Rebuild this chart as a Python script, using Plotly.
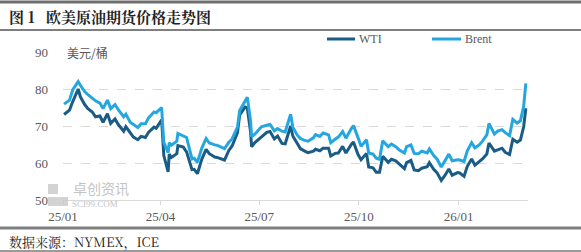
import plotly.graph_objects as go

dates = [
    "2025-01-02","2025-01-07","2025-01-10","2025-01-15","2025-01-17","2025-01-21","2025-01-24","2025-01-28","2025-01-31",
    "2025-02-04","2025-02-07","2025-02-11","2025-02-14","2025-02-18","2025-02-21","2025-02-26","2025-02-28",
    "2025-03-04","2025-03-07","2025-03-11","2025-03-14","2025-03-18","2025-03-21","2025-03-26","2025-03-28",
    "2025-04-02","2025-04-03","2025-04-04","2025-04-08","2025-04-09","2025-04-11","2025-04-16","2025-04-17","2025-04-22","2025-04-25","2025-04-30",
    "2025-05-02","2025-05-05","2025-05-09","2025-05-13","2025-05-16","2025-05-21","2025-05-23","2025-05-30",
    "2025-06-03","2025-06-06","2025-06-11","2025-06-13","2025-06-18","2025-06-20","2025-06-23","2025-06-24","2025-06-27",
    "2025-07-03","2025-07-08","2025-07-11","2025-07-15","2025-07-18","2025-07-22","2025-07-25","2025-07-30",
    "2025-08-01","2025-08-05","2025-08-08","2025-08-12","2025-08-15","2025-08-20","2025-08-22","2025-08-26","2025-08-29",
    "2025-09-03","2025-09-05","2025-09-09","2025-09-12","2025-09-16","2025-09-19","2025-09-24","2025-09-26","2025-09-30",
    "2025-10-03","2025-10-08","2025-10-10","2025-10-14","2025-10-17","2025-10-20","2025-10-23","2025-10-28","2025-10-31",
    "2025-11-04","2025-11-07","2025-11-12","2025-11-14","2025-11-18","2025-11-21","2025-11-25","2025-11-28",
    "2025-12-03","2025-12-05","2025-12-09","2025-12-12","2025-12-16","2025-12-19","2025-12-23","2025-12-26","2025-12-31",
    "2026-01-02","2026-01-06","2026-01-09","2026-01-13","2026-01-16","2026-01-20","2026-01-23","2026-01-27","2026-01-29",
    "2026-02-03","2026-02-06","2026-02-10","2026-02-13","2026-02-17","2026-02-20","2026-02-24","2026-02-27",
    "2026-03-02","2026-03-04",
]

wti = [
    73.1,74.3,76.6,80.0,77.9,75.8,74.7,73.8,72.5,
    72.7,71.0,73.3,70.7,71.9,70.4,68.6,69.8,
    68.3,67.0,66.3,67.2,66.9,68.3,69.7,69.4,
    71.7,67.0,62.0,57.6,62.4,61.5,62.5,64.7,64.3,63.0,58.2,
    58.3,57.1,61.0,63.7,62.5,61.6,61.5,60.8,
    63.4,64.6,68.2,73.0,75.1,74.9,68.5,64.4,65.5,
    67.0,68.3,68.5,66.5,67.3,65.3,65.2,70.0,
    67.3,65.2,63.9,63.2,62.8,63.2,63.7,63.3,64.0,
    64.0,61.9,62.6,62.7,64.5,62.7,65.0,65.7,62.4,
    60.9,62.6,58.9,58.7,57.5,57.5,61.8,60.2,61.0,
    60.6,59.8,58.5,60.1,60.7,58.1,57.9,58.6,
    59.0,60.1,58.3,57.4,55.3,56.5,58.4,56.7,57.4,
    57.3,56.4,59.1,61.1,59.4,60.3,61.1,62.4,65.4,
    63.2,63.6,64.0,62.9,62.3,66.4,65.6,66.2,
    69.8,74.8,
]

brent = [
    75.9,77.0,79.8,82.0,81.0,79.3,78.5,77.5,76.8,
    76.2,74.7,77.0,74.7,75.8,74.4,72.5,73.2,
    71.0,70.4,69.6,70.6,70.6,72.2,73.8,73.6,
    75.0,70.1,65.6,62.8,65.5,64.8,65.9,68.0,67.4,66.9,61.1,
    61.3,60.2,64.0,66.6,65.4,64.9,64.8,63.9,
    65.6,66.5,69.8,74.2,76.7,77.8,71.5,67.1,67.8,
    69.8,70.2,70.4,68.7,69.3,68.6,68.4,73.2,
    69.7,67.6,66.6,66.1,65.9,66.8,67.7,67.2,68.1,
    67.6,65.5,66.4,67.0,68.5,66.7,69.3,70.1,67.0,
    64.5,66.3,62.7,62.4,61.3,61.0,66.0,64.4,65.1,
    64.4,63.6,62.7,64.4,64.9,62.6,62.5,63.2,
    62.7,63.8,62.0,61.1,58.9,60.5,62.4,60.6,60.9,
    60.8,60.4,63.3,65.5,64.1,64.9,65.9,67.6,70.7,
    67.8,68.6,69.0,68.2,67.4,71.8,70.8,71.4,
    75.3,81.5,
]

y_ticks = [50, 60, 70, 80, 90]
x_ticks = ["2025-01-01","2025-04-01","2025-07-01","2025-10-01","2026-01-01"]
x_labels = ["25/01","25/04","25/07","25/10","26/01"]

WTI_C = "#1B5C86"
BRENT_C = "#26A6DF"
GRAY = "#595959"
SERIF = "Liberation Serif, DejaVu Serif, serif"
CJK = "Noto Sans CJK SC, sans-serif"

fig = go.Figure()
fig.add_trace(go.Scatter(x=dates, y=wti, mode="lines", name="WTI",
                         line=dict(color=WTI_C, width=3)))
fig.add_trace(go.Scatter(x=dates, y=brent, mode="lines", name="Brent",
                         line=dict(color=BRENT_C, width=3)))

fig.update_layout(
    width=581, height=252,
    margin=dict(l=63, r=53, t=52, b=52),
    paper_bgcolor="white", plot_bgcolor="white",
    showlegend=False,
    xaxis=dict(type="date", range=["2025-01-01", "2026-03-06"],
               tickvals=x_ticks, ticktext=x_labels,
               showgrid=False, zeroline=False,
               showline=True, linecolor="#D9D9D9", linewidth=1,
               ticks="outside", ticklen=4, tickcolor="#D9D9D9",
               tickfont=dict(family=SERIF, size=13, color=GRAY)),
    yaxis=dict(range=[50, 90], tickvals=y_ticks,
               showgrid=True, gridcolor="#D9D9D9", griddash="dash", gridwidth=1,
               zeroline=False, showline=False, ticks="",
               ticklabelstandoff=14,
               tickfont=dict(family=SERIF, size=13, color=GRAY)),
)

PW = 465
PH = 148
def px(xp):
    return (xp - 63) / PW
def py(ypx):
    return (200 - ypx) / PH

def hline(ypx, width, color):
    return dict(type="line", xref="paper", yref="paper",
                x0=px(0), x1=px(581), y0=py(ypx), y1=py(ypx),
                line=dict(color=color, width=width))

shapes = [
    hline(2, 3, "#6E6E6E"),
    hline(30, 2, "#7F7F7F"),
    hline(228, 3, "#7F7F7F"),
    hline(251, 2, "#9A9A9A"),
    # legend lines
    dict(type="line", xref="paper", yref="paper", x0=px(327), x1=px(355), y0=py(39), y1=py(39),
         line=dict(color=WTI_C, width=3)),
    dict(type="line", xref="paper", yref="paper", x0=px(432), x1=px(461), y0=py(39), y1=py(39),
         line=dict(color=BRENT_C, width=3)),
    # watermark logo blocks
    dict(type="rect", xref="paper", yref="paper", x0=px(48), x1=px(58), y0=py(194), y1=py(184),
         fillcolor="#C8C8C8", line=dict(width=0), opacity=0.8),
    dict(type="rect", xref="paper", yref="paper", x0=px(48), x1=px(68), y0=py(206), y1=py(197),
         fillcolor="#C8C8C8", line=dict(width=0), opacity=0.8),
]
fig.update_layout(shapes=shapes)

annotations = [
    dict(text="<b>图 1   欧美原油期货价格走势图</b>", xref="paper", yref="paper",
         x=px(7), y=py(16), xanchor="left", yanchor="middle", showarrow=False,
         font=dict(family="Noto Serif CJK SC, " + CJK, size=15, color="#222222")),
    dict(text="美元/桶", xref="paper", yref="paper", x=px(65), y=py(52),
         xanchor="left", yanchor="middle", showarrow=False,
         font=dict(family=CJK, size=12, color=GRAY)),
    dict(text="WTI", xref="paper", yref="paper", x=px(357), y=py(39),
         xanchor="left", yanchor="middle", showarrow=False,
         font=dict(family=SERIF, size=12, color=GRAY)),
    dict(text="Brent", xref="paper", yref="paper", x=px(463), y=py(39),
         xanchor="left", yanchor="middle", showarrow=False,
         font=dict(family=SERIF, size=12, color=GRAY)),
    dict(text="卓创资讯", xref="paper", yref="paper", x=px(71), y=py(188),
         xanchor="left", yanchor="middle", showarrow=False,
         font=dict(family=CJK, size=14, color="#C4C4C4")),
    dict(text="SCI99.COM", xref="paper", yref="paper", x=px(70), y=py(204),
         xanchor="left", yanchor="middle", showarrow=False,
         font=dict(family=SERIF, size=9, color="#C4C4C4")),
    dict(text="数据来源：NYMEX，ICE", xref="paper", yref="paper", x=px(7), y=py(241),
         xanchor="left", yanchor="middle", showarrow=False,
         font=dict(family="Noto Serif CJK SC, " + CJK, size=13, color="#222222")),
]
fig.update_layout(annotations=annotations)

fig.write_html("out.html")
